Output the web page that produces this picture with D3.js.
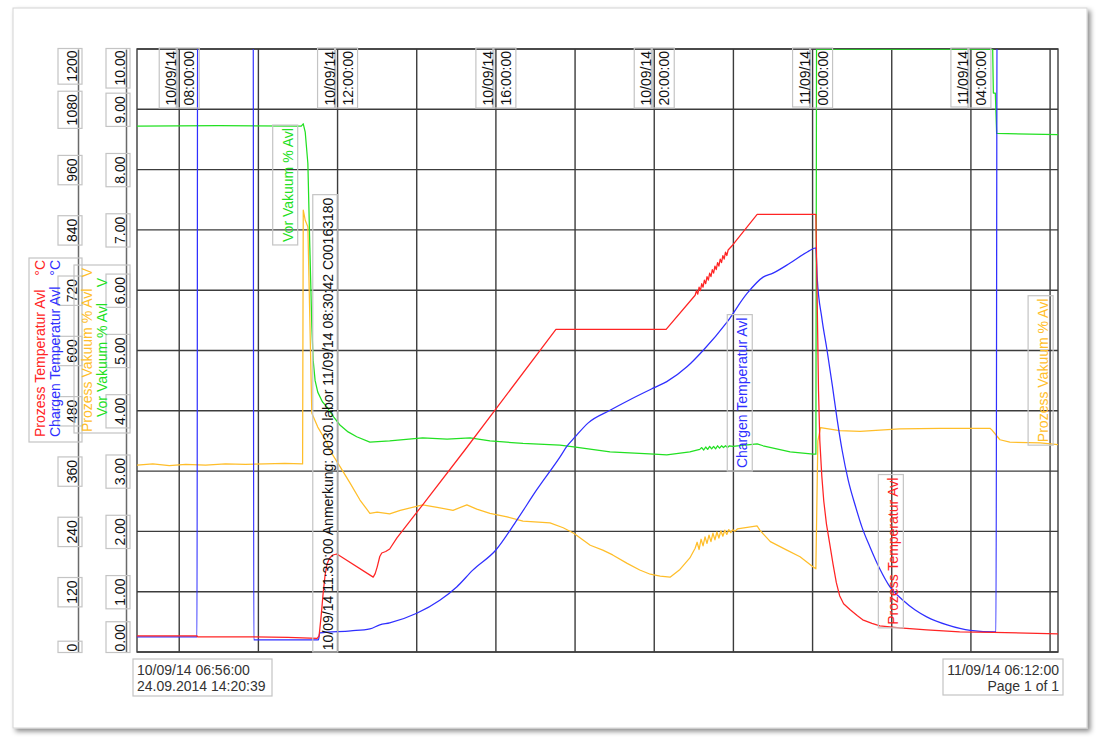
<!DOCTYPE html>
<html><head><meta charset="utf-8">
<script src="https://cdn.jsdelivr.net/npm/d3@7"></script>
<style>
html,body{margin:0;padding:0;background:#fff;}
svg{display:block;font-family:"Liberation Sans",Arial,sans-serif;}
</style></head><body>
<svg id="chart" width="1100" height="747"></svg>
<script>
// ---------- data ----------
const timeStart = "10/09/14 06:56";
const timeEnd   = "11/09/14 06:12";
const printStamp = "24.09.2014  14:20:39";
const pageText = "Page 1 of 1";
const tempTicks = [0,120,240,360,480,600,720,840,960,1080,1200];
const voltTicks = [0,1,2,3,4,5,6,7,8,9,10];
const seriesNames = ["Prozess Temperatur Avl","Chargen Temperatur Avl","Prozess Vakuum % Avl","Vor Vakuum % Avl"];
const seriesUnits = ["°C","°C","V","V"];
const annotationText = "10/09/14 11:30:00 Anmerkung: 0030.labor 11/09/14 08:30:42 C00163180";

// Prozess Temperatur Avl (°C)
const prozessTemp = [
["10/09/14 06:56",32],["10/09/14 07:50",32],["10/09/14 08:27",32],["10/09/14 08:28",30],["10/09/14 09:52",30],
["10/09/14 10:45",29],["10/09/14 11:29",27],["10/09/14 11:32",32],["10/09/14 11:35",70],["10/09/14 11:38",115],
["10/09/14 11:41",152],["10/09/14 11:44",175],["10/09/14 11:48",187],["10/09/14 11:53",193],["10/09/14 11:59",195],
["10/09/14 12:05",190],["10/09/14 12:54",149],["10/09/14 12:57",156],["10/09/14 13:00",169],["10/09/14 13:04",190],
["10/09/14 13:07",197],["10/09/14 13:13",200],["10/09/14 13:19",205],["10/09/14 13:30",227],["10/09/14 14:09",293],
["10/09/14 15:13",402],["10/09/14 17:31",642],["10/09/14 20:18",642],["10/09/14 21:02",710],["10/09/14 21:04",719],
["10/09/14 21:06",712],["10/09/14 21:08",726],["10/09/14 21:10",719],["10/09/14 21:12",733],["10/09/14 21:14",726],
["10/09/14 21:16",740],["10/09/14 21:18",733],["10/09/14 21:20",747],["10/09/14 21:22",740],["10/09/14 21:24",754],
["10/09/14 21:26",747],["10/09/14 21:28",761],["10/09/14 21:30",754],["10/09/14 21:32",768],["10/09/14 21:34",761],
["10/09/14 21:36",775],["10/09/14 21:38",768],["10/09/14 21:40",782],["10/09/14 21:42",775],["10/09/14 21:44",789],
["10/09/14 21:46",782],["10/09/14 21:48",796],["10/09/14 21:50",789],["10/09/14 21:52",800],["10/09/14 21:59",810],
["10/09/14 22:36",871],["11/09/14 00:05",871],["11/09/14 00:07",700],["11/09/14 00:09",520],["11/09/14 00:11",420],
["11/09/14 00:14",350],["11/09/14 00:17",300],["11/09/14 00:21",255],["11/09/14 00:26",215],["11/09/14 00:31",175],
["11/09/14 00:36",138],["11/09/14 00:41",112],["11/09/14 00:47",96],["11/09/14 00:57",84],["11/09/14 01:08",72],
["11/09/14 01:16",64],["11/09/14 01:30",57],["11/09/14 01:42",52],["11/09/14 02:12",48],["11/09/14 02:53",44],
["11/09/14 03:43",40],["11/09/14 04:34",39],["11/09/14 06:12",36]];

// Chargen Temperatur Avl (°C) – 1500 = reading above scale
const chargenTemp = [
["10/09/14 06:56",30],["10/09/14 08:27",30],["10/09/14 08:28",1500],["10/09/14 09:52",1500],["10/09/14 09:53",24],
["10/09/14 11:31",24],["10/09/14 11:33",38],["10/09/14 12:20",42],["10/09/14 12:49",46],["10/09/14 13:04",54],
["10/09/14 13:19",58],["10/09/14 14:00",77],["10/09/14 14:35",103],["10/09/14 15:01",130],["10/09/14 15:25",163],
["10/09/14 16:00",203],["10/09/14 16:32",263],["10/09/14 17:02",323],["10/09/14 17:37",388],["10/09/14 17:48",410],
["10/09/14 18:00",428],["10/09/14 18:20",456],["10/09/14 18:53",481],["10/09/14 19:23",502],["10/09/14 20:00",526],
["10/09/14 20:19",538],["10/09/14 20:50",568],["10/09/14 21:14",600],["10/09/14 21:50",656],["10/09/14 22:21",714],
["10/09/14 22:45",746],["10/09/14 23:00",754],["10/09/14 23:26",774],["10/09/14 23:52",796],["11/09/14 00:05",804],
["11/09/14 00:07",745],["11/09/14 00:14",665],["11/09/14 00:22",600],["11/09/14 00:30",530],["11/09/14 00:37",465],
["11/09/14 00:45",400],["11/09/14 00:54",342],["11/09/14 01:05",290],["11/09/14 01:15",248],["11/09/14 01:27",209],
["11/09/14 01:42",165],["11/09/14 01:57",130],["11/09/14 02:17",103],["11/09/14 02:35",84],["11/09/14 02:53",70],
["11/09/14 03:24",54],["11/09/14 03:59",43],["11/09/14 04:38",40],["11/09/14 04:40",1500],["11/09/14 06:12",1500]];

// Prozess Vakuum % Avl (V)
const prozessVakuum = [
["10/09/14 06:56",3.10],["10/09/14 07:20",3.12],["10/09/14 07:45",3.09],["10/09/14 08:10",3.11],["10/09/14 08:40",3.10],
["10/09/14 09:10",3.12],["10/09/14 09:40",3.11],["10/09/14 10:10",3.12],["10/09/14 10:40",3.13],["10/09/14 11:07",3.12],
["10/09/14 11:08",7.33],["10/09/14 11:11",7.16],["10/09/14 11:15",7.05],["10/09/14 11:21",3.96],["10/09/14 11:30",3.73],
["10/09/14 11:44",3.47],["10/09/14 11:48",3.35],["10/09/14 12:04",3.07],["10/09/14 12:19",2.80],["10/09/14 12:34",2.52],
["10/09/14 12:49",2.30],["10/09/14 13:00",2.32],["10/09/14 13:19",2.29],["10/09/14 13:35",2.35],["10/09/14 14:09",2.44],
["10/09/14 14:31",2.40],["10/09/14 14:55",2.35],["10/09/14 15:16",2.44],["10/09/14 15:31",2.37],["10/09/14 15:51",2.30],
["10/09/14 16:17",2.24],["10/09/14 16:41",2.17],["10/09/14 17:22",2.14],["10/09/14 17:42",2.06],["10/09/14 17:58",1.97],
["10/09/14 18:23",1.77],["10/09/14 18:42",1.69],["10/09/14 18:57",1.61],["10/09/14 19:19",1.47],["10/09/14 19:38",1.36],
["10/09/14 19:54",1.29],["10/09/14 20:09",1.26],["10/09/14 20:24",1.24],["10/09/14 20:39",1.37],["10/09/14 20:54",1.56],
["10/09/14 21:02",1.72],["10/09/14 21:05",1.82],["10/09/14 21:08",1.70],["10/09/14 21:11",1.87],["10/09/14 21:14",1.76],
["10/09/14 21:17",1.91],["10/09/14 21:20",1.80],["10/09/14 21:23",1.94],["10/09/14 21:26",1.83],["10/09/14 21:29",1.97],
["10/09/14 21:32",1.86],["10/09/14 21:35",1.99],["10/09/14 21:38",1.89],["10/09/14 21:41",2.01],["10/09/14 21:44",1.92],
["10/09/14 21:47",2.02],["10/09/14 21:50",1.95],["10/09/14 21:53",2.03],["10/09/14 21:56",1.98],["10/09/14 21:59",2.03],
["10/09/14 22:02",2.00],["10/09/14 22:06",2.04],["10/09/14 22:36",2.09],["10/09/14 22:40",2.02],["10/09/14 22:56",1.83],
["10/09/14 23:21",1.69],["10/09/14 23:41",1.58],["11/09/14 00:01",1.41],["11/09/14 00:05",1.38],["11/09/14 00:08",3.50],
["11/09/14 00:12",3.72],["11/09/14 00:41",3.67],["11/09/14 01:12",3.66],["11/09/14 01:42",3.68],["11/09/14 02:12",3.70],
["11/09/14 03:13",3.71],["11/09/14 04:29",3.71],["11/09/14 04:32",3.68],["11/09/14 04:44",3.52],["11/09/14 04:59",3.48],
["11/09/14 05:45",3.47],["11/09/14 06:12",3.44]];

// Vor Vakuum % Avl (V)
const vorVakuum = [
["10/09/14 06:56",8.72],["10/09/14 09:00",8.73],["10/09/14 11:05",8.72],["10/09/14 11:08",8.76],["10/09/14 11:11",8.62],
["10/09/14 11:15",8.10],["10/09/14 11:18",6.70],["10/09/14 11:21",5.40],["10/09/14 11:23",4.84],["10/09/14 11:26",4.50],
["10/09/14 11:30",4.31],["10/09/14 11:37",4.15],["10/09/14 11:44",4.06],["10/09/14 11:54",3.90],["10/09/14 12:04",3.76],
["10/09/14 12:16",3.65],["10/09/14 12:29",3.57],["10/09/14 12:49",3.48],["10/09/14 13:19",3.50],["10/09/14 14:09",3.55],
["10/09/14 14:46",3.53],["10/09/14 15:21",3.55],["10/09/14 15:51",3.50],["10/09/14 16:41",3.46],["10/09/14 17:37",3.43],
["10/09/14 17:58",3.40],["10/09/14 18:53",3.32],["10/09/14 20:00",3.28],["10/09/14 20:19",3.27],["10/09/14 20:54",3.32],
["10/09/14 21:09",3.36],["10/09/14 21:12",3.39],["10/09/14 21:15",3.35],["10/09/14 21:18",3.40],["10/09/14 21:21",3.36],
["10/09/14 21:24",3.41],["10/09/14 21:27",3.37],["10/09/14 21:30",3.41],["10/09/14 21:33",3.37],["10/09/14 21:36",3.42],
["10/09/14 21:39",3.38],["10/09/14 21:42",3.42],["10/09/14 21:45",3.39],["10/09/14 21:48",3.42],["10/09/14 21:51",3.39],
["10/09/14 21:54",3.42],["10/09/14 21:59",3.41],["10/09/14 22:36",3.45],["10/09/14 22:45",3.42],["10/09/14 23:26",3.32],
["11/09/14 00:01",3.28],["11/09/14 00:05",3.28],["11/09/14 00:06",10],["11/09/14 04:33",10],["11/09/14 04:34",9.27],
["11/09/14 04:37",9.27],["11/09/14 04:39",8.60],["11/09/14 06:12",8.58]];

// ---------- chart ----------
const parse = d3.timeParse("%d/%m/%y %H:%M");
const fmtDate = d3.timeFormat("%d/%m/%y");
const fmtTime = d3.timeFormat("%H:%M:%S");
const FONT = 14;
const colors = {red:"#ff2424", blue:"#2f2fff", orange:"#ffbe2a", green:"#22e022"};

const svg = d3.select("#chart");
const defs = svg.append("defs");
const f = defs.append("filter").attr("id","shadow").attr("x","-5%").attr("y","-5%").attr("width","110%").attr("height","110%");
f.append("feDropShadow").attr("dx",3).attr("dy",3).attr("stdDeviation",2.5).attr("flood-color","#000").attr("flood-opacity",0.45);

// page
svg.append("rect").attr("x",13).attr("y",8).attr("width",1074).attr("height",720)
  .attr("fill","#fff").attr("stroke","#d4d4d4").attr("filter","url(#shadow)");

const pL = 137, pR = 1058, pT = 49, pB = 652;
const x = d3.scaleTime().domain([parse(timeStart), parse(timeEnd)]).range([pL, pR]);
const yV = d3.scaleLinear().domain([0,10]).range([pB, pT]);
const yT = d3.scaleLinear().domain([0,1200]).range([pB, pT]);

defs.append("clipPath").attr("id","plotclip").append("rect")
  .attr("x",pL).attr("y",pT).attr("width",pR-pL).attr("height",pB-pT);

const gridColor = "#3c3c3c";
const grid = svg.append("g").attr("stroke",gridColor).attr("stroke-width",1.4);
grid.selectAll("line.h").data(voltTicks).join("line").attr("class","h")
  .attr("x1",pL).attr("x2",pR).attr("y1",d=>yV(d)).attr("y2",d=>yV(d));
grid.selectAll("line.v").data(x.ticks(d3.timeHour.every(2))).join("line").attr("class","v")
  .attr("x1",d=>x(d)).attr("x2",d=>x(d)).attr("y1",pT).attr("y2",pB);
svg.append("rect").attr("x",pL).attr("y",pT).attr("width",pR-pL).attr("height",pB-pT)
  .attr("fill","none").attr("stroke",gridColor).attr("stroke-width",1.4);

// helpers
function vtext(parent, xb, y, anchor, str, color){
  return parent.append("text").attr("transform",`translate(${xb},${y}) rotate(-90)`)
    .attr("text-anchor",anchor).attr("fill",color).attr("font-size",FONT).text(str);
}
function box(parent, x1, x2, y1, y2){
  parent.insert("rect",":first-child").attr("x",x1).attr("y",y1).attr("width",x2-x1).attr("height",y2-y1)
    .attr("fill","none").attr("stroke","#c4c4c4").attr("stroke-width",1.2);
}

// left axes
function makeAxis(scale, ticks, fmt, ax){
  const g = svg.append("g").attr("transform",`translate(${ax},0)`)
    .call(d3.axisLeft(scale).tickValues(ticks).tickFormat(fmt).tickSize(0).tickSizeOuter(0));
  g.select(".domain").attr("stroke","#6a6a6a").attr("stroke-width",1.5);
  g.selectAll(".tick").each(function(d,i){
    const tg = d3.select(this);
    const t = tg.select("text");
    const last = i===ticks.length-1, first = i===0;
    const off = last ? 1 : (first ? -1 : 0);
    const anchor = last ? "end" : (first ? "start" : "middle");
    t.attr("x",null).attr("dy",null).attr("fill","#111").attr("font-size",FONT)
     .attr("font-family","Liberation Sans, Arial, sans-serif")
     .attr("transform",`translate(-1.5,${off}) rotate(-90)`).attr("text-anchor",anchor);
    const L = t.node().getComputedTextLength();
    let y1, y2;
    if(anchor==="end"){ y1 = off - 2; y2 = off + L + 2.5; }
    else if(anchor==="start"){ y1 = off - L - 2.5; y2 = off + 1; }
    else { y1 = -L/2 - 3; y2 = L/2 + 3; }
    box(tg, -20, 4, y1, y2);
  });
  return g;
}
makeAxis(yT, tempTicks, d3.format("d"), 78);
makeAxis(yV, voltTicks, d3.format(".2f"), 126);

// left legends
const leg = svg.append("g");
const legA = leg.append("g");
box(legA, 29, 82, 258, 442);
vtext(legA, 45, 437, "start", seriesNames[0], colors.red);
vtext(legA, 45, 260, "end", seriesUnits[0], colors.red);
vtext(legA, 60, 437, "start", seriesNames[1], colors.blue);
vtext(legA, 60, 260, "end", seriesUnits[1], colors.blue);
const legB = leg.append("g");
box(legB, 74, 130, 265, 433);
vtext(legB, 92, 432, "start", seriesNames[2], colors.orange);
vtext(legB, 92, 268, "end", seriesUnits[2], colors.orange);
vtext(legB, 107, 417, "start", seriesNames[3], colors.green);
vtext(legB, 107, 278, "end", seriesUnits[3], colors.green);

// series lines
const lines = svg.append("g").attr("clip-path","url(#plotclip)").attr("fill","none").attr("stroke-width",1.25);
function drawSeries(data, yScale, color, curve){
  const line = d3.line().curve(curve).x(d=>x(parse(d[0]))).y(d=>yScale(d[1]));
  lines.append("path").datum(data).attr("d",line).attr("stroke",color).attr("stroke-linejoin","round");
}
drawSeries(prozessVakuum, yV, colors.orange, d3.curveLinear);
drawSeries(vorVakuum, yV, colors.green, d3.curveLinear);
drawSeries(chargenTemp, yT, colors.blue, d3.curveMonotoneX);
drawSeries(prozessTemp, yT, colors.red, d3.curveLinear);

// time labels (every 4 hours)
const tl = svg.append("g");
x.ticks(d3.timeHour.every(4)).forEach(d=>{
  const gx = x(d);
  const g = tl.append("g");
  const t1 = vtext(g, gx-3, 51, "end", fmtDate(d), "#111");
  const t2 = vtext(g, gx+15, 51, "end", fmtTime(d), "#111");
  const L1 = t1.node().getComputedTextLength(), L2 = t2.node().getComputedTextLength();
  box(g, gx-20, gx-2, 48, 51+L1+2.5);
  box(g, gx-3, gx+20, 48, 51+L2+2.5);
});

// in-plot labels
function seriesLabel(xb, yb, str, color){
  const g = svg.append("g");
  const t = vtext(g, xb, yb, "start", str, color);
  const L = t.node().getComputedTextLength();
  box(g, xb-20, xb+5, yb-L-3, Math.min(yb+3, pB));
}
seriesLabel(x(parse("10/09/14 10:52")), yV(6.8), seriesNames[3], colors.green);
seriesLabel(x(parse("10/09/14 11:30"))+15, yV(0.03), annotationText, "#111");
seriesLabel(x(parse("10/09/14 22:21")), yV(3.05), seriesNames[1], colors.blue);
seriesLabel(x(parse("11/09/14 02:10")), yV(0.45), seriesNames[0], colors.red);
seriesLabel(x(parse("11/09/14 05:57")), yV(3.48), seriesNames[2], colors.orange);

// bottom boxes
const bl = svg.append("g").attr("font-size",FONT).attr("fill","#333");
box(bl, pL-4, pL+135, 659, 696);
bl.append("text").attr("x",pL).attr("y",675).text(fmtDate(parse(timeStart))+" "+fmtTime(parse(timeStart)));
bl.append("text").attr("x",pL).attr("y",691).text(printStamp);
const br = svg.append("g").attr("font-size",FONT).attr("fill","#333").attr("text-anchor","end");
box(br, pR-115, pR+5, 659, 695);
br.append("text").attr("x",pR+1).attr("y",675).text(fmtDate(parse(timeEnd))+" "+fmtTime(parse(timeEnd)));
br.append("text").attr("x",pR+1).attr("y",691).text(pageText);
</script>
</body></html>
